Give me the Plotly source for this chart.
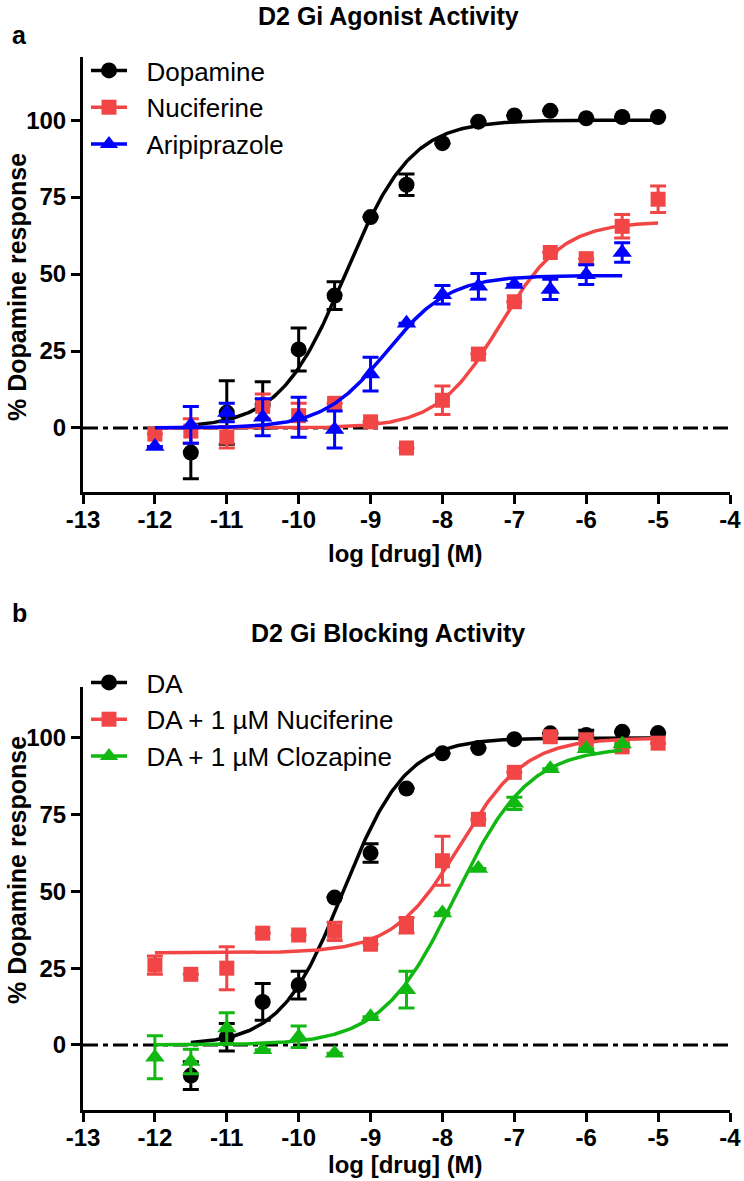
import numpy as np
import plotly.graph_objects as go

# ---------------- Panel a: D2 Gi Agonist Activity ----------------
a_dop_x = [-11.5, -11, -10.5, -10, -9.5, -9, -8.5, -8, -7.5, -7, -6.5, -6, -5.5, -5]
a_dop_y = [-8, 5, 7.5, 25.5, 43, 68.5, 79, 92.5, 99.5, 101.5, 103, 100.6, 101, 101]
a_dop_e = [8.5, 10.3, 7.5, 7, 4.5, 0, 3.5, 0, 0, 0, 0, 0, 0, 0]

a_nuc_x = [-12, -11.5, -11, -10.5, -10, -9.5, -9, -8.5, -8, -7.5, -7, -6.5, -6, -5.5, -5]
a_nuc_y = [-2, -1, -3, 7, 4, 8, 2, -6.5, 9, 24, 41, 57, 55, 65.5, 74.3]
a_nuc_e = [0, 4, 3.5, 4, 4, 0, 0, 0, 4.6, 0, 0, 0, 0, 3.8, 4.3]

a_ari_x = [-12, -11.5, -11, -10.5, -10, -9.5, -9, -8.5, -8, -7.5, -7, -6.5, -6, -5.5]
a_ari_y = [-6, 1, 5, 3.5, 3.5, -0.5, 17.5, 34, 43.3, 46, 46.6, 45, 49.8, 57]
a_ari_e = [0, 6, 3, 6, 6.5, 6, 5.5, 0, 3, 4.2, 0, 3.3, 3.2, 3.2]

# fitted curves: [bottom, top, logEC50, hill, x_start, x_end]
a_dop_fit = [0, 100, -9.35, 0.95, -11.5, -5]
a_nuc_fit = [0, 67, -7.2, 1.0, -12, -5]
a_ari_fit = [0, 49.5, -8.78, 1.0, -12, -5.5]

# ---------------- Panel b: D2 Gi Blocking Activity ----------------
b_da_x = [-11.5, -11, -10.5, -10, -9.5, -9, -8.5, -8, -7.5, -7, -6.5, -6, -5.5, -5]
b_da_y = [-10, 2.5, 14, 19.5, 48, 62.5, 83.5, 95, 96.7, 99.6, 101.5, 101, 102, 101.6]
b_da_e = [4.5, 4.5, 6, 4.5, 0, 3, 0, 0, 0, 0, 0, 1.5, 0, 0]

b_nuc_x = [-12, -11.5, -11, -10.5, -10, -9.5, -9, -8.5, -8, -7.5, -7, -6.5, -6, -5.5, -5]
b_nuc_y = [26, 23, 25, 36.4, 35.8, 37, 32.8, 39, 60, 73.5, 88.8, 100.4, 99.4, 97.1, 98.3]
b_nuc_e = [3, 0, 7, 0, 0, 3, 0, 2.5, 8, 0, 0, 0, 0, 0, 0]

b_clz_x = [-12, -11.5, -11, -10.5, -10, -9.5, -9, -8.5, -8, -7.5, -7, -6.5, -6, -5.5]
b_clz_y = [-4, -5.4, 5.5, -1.6, 2.7, -2.7, 9.2, 18, 43, 57.5, 78.7, 90, 96.5, 98]
b_clz_e = [7, 4, 5, 0, 3.5, 0, 0, 6, 0, 0, 2, 0, 0, 0]

b_da_fit = [0, 100, -9.38, 1.0, -11.5, -5]
b_nuc_fit = [30, 100, -7.76, 0.95, -12, -5]
b_clz_fit = [0, 97, -7.82, 0.85, -12, -5.5]

x_ticks = [-13, -12, -11, -10, -9, -8, -7, -6, -5, -4]
x_tick_labels = ["-13", "-12", "-11", "-10", "-9", "-8", "-7", "-6", "-5", "-4"]
y_ticks = [0, 25, 50, 75, 100]
y_tick_labels = ["0", "25", "50", "75", "100"]

BLACK = "#000000"
RED = "#F24646"
BLUE = "#0000FF"
GREEN = "#12B812"
FONT = "Liberation Sans, Arial, sans-serif"

W, H = 744, 1181


def px(x):  # page pixel x -> paper fraction
    return x / W


def py(y):  # page pixel y (from top) -> paper fraction
    return 1 - y / H


def curve(p):
    bottom, top, logec, hill, x0, x1 = p
    xs = np.linspace(x0, x1, 300)
    ys = bottom + (top - bottom) / (1 + 10 ** ((logec - xs) * hill))
    return xs, ys


fig = go.Figure()
NB = "\u00a0\u00a0"


def add_series(x, y, e, fit, color, symbol, size, name, xa, ya, legend):
    cx, cy = curve(fit)
    fig.add_trace(go.Scatter(x=cx, y=cy, mode="lines", line=dict(color=color, width=3.5),
                             xaxis=xa, yaxis=ya, showlegend=False, hoverinfo="skip"))
    fig.add_trace(go.Scatter(x=x, y=y, mode="markers",
                             marker=dict(color=color, symbol=symbol, size=size, line=dict(width=0)),
                             error_y=dict(type="data", array=e, visible=True, color=color,
                                          thickness=3, width=8),
                             xaxis=xa, yaxis=ya, showlegend=False))
    fig.add_trace(go.Scatter(x=[None], y=[None], mode="lines+markers", name=NB + name,
                             line=dict(color=color, width=3.5),
                             marker=dict(color=color, symbol=symbol, size=size),
                             xaxis=xa, yaxis=ya, legend=legend))


add_series(a_dop_x, a_dop_y, a_dop_e, a_dop_fit, BLACK, "circle", 16, "Dopamine", "x", "y", "legend")
add_series(a_nuc_x, a_nuc_y, a_nuc_e, a_nuc_fit, RED, "square", 15, "Nuciferine", "x", "y", "legend")
add_series(a_ari_x, a_ari_y, a_ari_e, a_ari_fit, BLUE, "triangle-up", 17, "Aripiprazole", "x", "y", "legend")

add_series(b_da_x, b_da_y, b_da_e, b_da_fit, BLACK, "circle", 16, "DA", "x2", "y2", "legend2")
add_series(b_nuc_x, b_nuc_y, b_nuc_e, b_nuc_fit, RED, "square", 15, "DA + 1 µM Nuciferine", "x2", "y2", "legend2")
add_series(b_clz_x, b_clz_y, b_clz_e, b_clz_fit, GREEN, "triangle-up", 17, "DA + 1 µM Clozapine", "x2", "y2", "legend2")

xdom = [px(83), px(730)]
ydom_a = [py(492), py(57)]
ydom_b = [py(1110), py(687)]

axis_common = dict(showline=True, linecolor="black", linewidth=3, ticks="outside",
                   ticklen=9, tickwidth=3, tickcolor="black", showgrid=False, zeroline=False,
                   automargin=False,
                   tickfont=dict(family=FONT, size=24, color="black", weight="bold"))

fig.update_layout(
    template="none",
    width=W, height=H, margin=dict(l=0, r=0, t=0, b=0, pad=0, autoexpand=False),
    paper_bgcolor="white", plot_bgcolor="white",
    xaxis=dict(domain=xdom, range=[-13, -4], tickvals=x_ticks, ticktext=x_tick_labels,
               anchor="y", ticklabelstandoff=-5, **axis_common),
    yaxis=dict(domain=ydom_a, range=[-20.8, 120.5], tickvals=y_ticks, ticktext=y_tick_labels,
               anchor="x", **axis_common),
    xaxis2=dict(domain=xdom, range=[-13, -4], tickvals=x_ticks, ticktext=x_tick_labels,
                anchor="y2", ticklabelstandoff=-5, **axis_common),
    yaxis2=dict(domain=ydom_b, range=[-21.2, 116.6], tickvals=y_ticks, ticktext=y_tick_labels,
                anchor="x2", **axis_common),
    legend=dict(x=px(86), y=py(47), xanchor="left", yanchor="top", bgcolor="rgba(0,0,0,0)",
                font=dict(family=FONT, size=26, color="black"), itemwidth=36,
                tracegroupgap=0, borderwidth=0),
    legend2=dict(x=px(86), y=py(659), xanchor="left", yanchor="top", bgcolor="rgba(0,0,0,0)",
                 font=dict(family=FONT, size=26, color="black"), itemwidth=36,
                 tracegroupgap=0, borderwidth=0),
    showlegend=True,
)

# dashed zero lines
for xr, yr in [("x", "y"), ("x2", "y2")]:
    fig.add_shape(type="line", xref=xr, yref=yr, x0=-13, x1=-4, y0=0, y1=0,
                  line=dict(color="black", width=3, dash="15px,5px,5px,5px"), layer="below")


def ann(text, x, y, size, bold=True, angle=0, xanchor="center"):
    fig.add_annotation(text=text, x=px(x), y=py(y), xref="paper", yref="paper",
                       showarrow=False, textangle=angle, xanchor=xanchor, yanchor="middle",
                       font=dict(family=FONT, size=size, color="black",
                                 weight="bold" if bold else "normal"))


ann("D2 Gi Agonist Activity", 388, 16, 25)
ann("a", 10, 35, 25, xanchor="left")
ann("% Dopamine response", 17, 287, 25, angle=-90)
ann("log [drug] (M)", 406, 553, 24)

ann("D2 Gi Blocking Activity", 388, 633, 25)
ann("b", 10, 613, 25, xanchor="left")
ann("% Dopamine response", 17, 870, 25, angle=-90)
ann("log [drug] (M)", 406, 1164, 24)

# remove the browser's default 8px page margin so the figure sits at the page origin
fig.write_html("out.html", config={"displayModeBar": False},
               post_script="document.body.style.margin='0';")
